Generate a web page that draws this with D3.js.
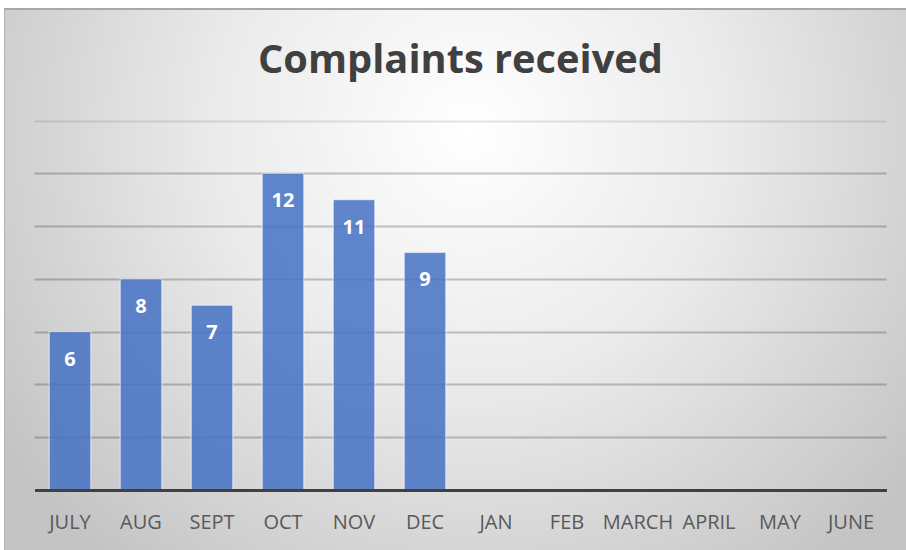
<!DOCTYPE html>
<html>
<head>
<meta charset="utf-8">
<script src="https://cdn.jsdelivr.net/npm/d3@7"></script>
<style>
  html, body { margin: 0; padding: 0; background: #fff; }
  svg { display: block; }
</style>
</head>
<body>
<div id="chart"></div>
<script>
const WIDTH = 906;
const HEIGHT = 550;

const months = ['JULY', 'AUG', 'SEPT', 'OCT', 'NOV', 'DEC', 'JAN', 'FEB', 'MARCH', 'APRIL', 'MAY', 'JUNE'];
const complaints = [6, 8, 7, 12, 11, 9, null, null, null, null, null, null];
const gridTicks = [2, 4, 6, 8, 10, 12, 14];

const title = 'Complaints received';

const plot = { left: 34.5, right: 886.5, top: 120.5, bottom: 490 };

let svg = d3.select('#chart').append('svg')
  .attr('width', WIDTH)
  .attr('height', HEIGHT);

let defs = svg.append('defs');
let bg = defs.append('radialGradient')
  .attr('id', 'bgGrad')
  .attr('gradientUnits', 'userSpaceOnUse')
  .attr('cx', 470).attr('cy', 130)
  .attr('r', 560);
bg.append('stop').attr('offset', '0%').attr('stop-color', '#ffffff');
bg.append('stop').attr('offset', '45%').attr('stop-color', '#ebebeb');
bg.append('stop').attr('offset', '100%').attr('stop-color', '#c4c4c4');

// chart frame
svg.append('rect')
  .attr('x', 4.5).attr('y', 8.5)
  .attr('width', WIDTH - 4).attr('height', HEIGHT - 8)
  .attr('fill', 'url(#bgGrad)')
  .attr('stroke', '#b4b4b4')
  .attr('stroke-width', 1);
svg.append('line')
  .attr('x1', 4).attr('x2', WIDTH)
  .attr('y1', 9).attr('y2', 9)
  .attr('stroke', '#a8a8a8')
  .attr('stroke-width', 2);

let x = d3.scaleBand()
  .domain(months)
  .range([plot.left, plot.right])
  .paddingInner(0.415)
  .paddingOuter(0.2075);

let y = d3.scaleLinear()
  .domain([0, 14])
  .range([plot.bottom, plot.top]);

// horizontal gridlines
svg.append('g').selectAll('line')
  .data(gridTicks)
  .join('line')
  .attr('x1', plot.left).attr('x2', plot.right)
  .attr('y1', d => Math.round(y(d)) + 0.5)
  .attr('y2', d => Math.round(y(d)) + 0.5)
  .attr('stroke', '#000')
  .attr('stroke-opacity', d => d === 14 ? 0.1 : 0.22)
  .attr('stroke-width', 2);

// bars
let data = months.map((m, i) => ({ month: m, value: complaints[i] }))
  .filter(d => d.value !== null);

svg.append('g').selectAll('rect')
  .data(data)
  .join('rect')
  .attr('x', d => x(d.month))
  .attr('y', d => y(d.value))
  .attr('width', x.bandwidth())
  .attr('height', d => y(0) - y(d.value))
  .attr('fill', '#4472c4')
  .attr('fill-opacity', 0.85)
  .attr('stroke', '#ffffff')
  .attr('stroke-opacity', 0.55)
  .attr('stroke-width', 1.2);

// value labels inside end
svg.append('g').selectAll('text')
  .data(data)
  .join('text')
  .attr('x', d => x(d.month) + x.bandwidth() / 2)
  .attr('y', d => y(d.value) + 34)
  .attr('text-anchor', 'middle')
  .attr('font-family', 'Open Sans, sans-serif')
  .attr('font-weight', 700)
  .attr('font-size', 20)
  .attr('fill', '#ffffff')
  .text(d => d.value);

// baseline axis
let xAxis = svg.append('g')
  .attr('transform', 'translate(0,' + plot.bottom + ')')
  .call(d3.axisBottom(x).tickSize(0).tickPadding(25));
xAxis.select('.domain')
  .attr('stroke', '#404040')
  .attr('stroke-width', 3);
xAxis.selectAll('text')
  .attr('font-family', 'Open Sans, sans-serif')
  .attr('font-size', 20)
  .attr('fill', '#595959');

// title
svg.append('text')
  .attr('x', 460.5)
  .attr('y', 73)
  .attr('text-anchor', 'middle')
  .attr('font-family', 'Open Sans, sans-serif')
  .attr('font-weight', 700)
  .attr('font-size', 40)
  .attr('fill', '#404040')
  .attr('textLength', 405)
  .attr('lengthAdjust', 'spacingAndGlyphs')
  .text(title);
</script>
</body>
</html>
